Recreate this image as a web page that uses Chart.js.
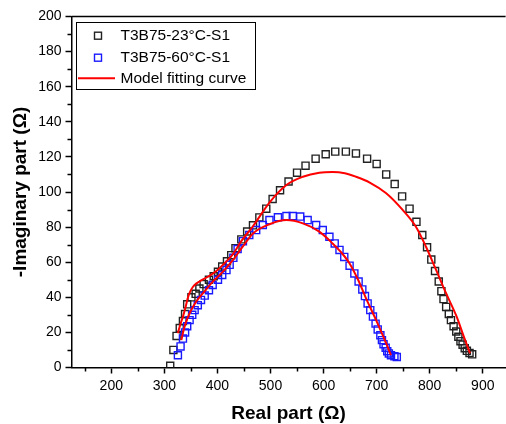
<!DOCTYPE html>
<html>
<head>
<meta charset="utf-8">
<script src="https://cdn.jsdelivr.net/npm/chart.js@4.4.0/dist/chart.umd.min.js"></script>
<style>
  html, body { margin: 0; padding: 0; background: #fff; overflow: hidden; }
  #wrap { width: 512px; height: 424px; }
</style>
</head>
<body>
<div id="wrap"><canvas id="nyquist" width="512" height="424"></canvas></div>
<script>
// tick labels
const xTickLabels = [200, 300, 400, 500, 600, 700, 800, 900];
const yTickLabels = [0, 20, 40, 60, 80, 100, 120, 140, 160, 180, 200];
const seriesNames = ["T3B75-23°C-S1", "T3B75-60°C-S1", "Model fitting curve"];

// measured points, 23 °C
const real23 = [311, 317, 323, 329, 335, 339, 343, 351, 359, 366, 374, 384, 393, 401, 409, 418, 426, 434, 445, 456,
  467, 479, 492, 504, 518, 534, 550, 566, 585, 604, 622, 642, 661, 682, 700, 718, 734, 748, 762, 775,
  786, 795, 803, 810, 817, 822, 826, 831, 836, 840, 845, 850, 854, 858, 862, 866, 870, 875, 880];
const imag23 = [1, 10, 18, 22.5, 26.5, 30.5, 36, 40, 42, 45, 47.5, 50, 52, 54.5, 57.5, 60.5, 64, 68, 73, 77.5,
  81, 85.5, 90.5, 96, 101, 106, 111, 115, 119, 121.5, 123, 123, 122, 119, 116, 110, 104.5, 97.5, 90.5, 83,
  75.5, 68.5, 61.5, 55, 49, 43.5, 39, 34.5, 30.5, 27, 23.5, 20.5, 17.5, 15, 13, 11, 9.5, 8.3, 7.5];

// measured points, 60 °C
const real60 = [325.5, 330.5, 335, 339, 343, 347.5, 352.5, 357, 363, 369, 376, 384, 391, 401, 409, 417, 423, 430,
  438, 448, 460, 473, 485.5, 498, 514, 530, 542, 556, 570, 586, 598.5, 611, 621, 630, 639, 649, 658, 666,
  673, 678, 683, 688, 693, 698, 702, 707, 710, 713, 717, 720, 723, 727, 733.5, 738];
const imag60 = [7, 12, 16.5, 20, 23.5, 27, 30, 32.7, 35.5, 38.5, 41, 44, 47, 50, 52.7, 55.5, 58.5, 62.5,
  67.5, 72, 75.5, 78.3, 81.2, 84, 85.6, 86.3, 86.3, 86, 84, 81.2, 78.3, 74.5, 70.7, 67, 63, 58, 53.6, 49,
  44.5, 40.7, 36.5, 32.7, 29, 25, 21.7, 18.4, 15.6, 13.3, 11.2, 9.3, 8, 7, 6.4, 6];

// fitted curves
const fitReal23 = [325.5, 330, 335, 340, 344, 349, 354, 360, 366, 382, 398, 413, 429, 445, 467, 498, 530, 561,
  592, 617, 640, 661, 687, 718, 749, 774, 793, 812, 831, 850, 865, 876];
const fitImag23 = [19.5, 24.5, 29, 34.5, 39.5, 43.5, 46, 47.8, 49, 51.7, 55, 59.3, 64.5, 72, 80.5, 94, 104, 108.7,
  111, 111.4, 110.7, 108.7, 105.4, 99.3, 89.8, 80.2, 68.8, 55.6, 42.2, 29.5, 17, 8];
const fitReal60 = [332, 336, 341, 347, 354, 363, 372.5, 391, 410, 429, 448, 467, 498, 530, 561, 592, 617, 632,
  649, 665, 680, 699, 718, 727];
const fitImag60 = [15.6, 21, 26, 30.5, 34.6, 38.8, 42.2, 48.8, 54.5, 61.2, 69, 76.4, 81.6, 84, 82.1, 77.4, 70.7, 66,
  59.3, 50, 39.4, 27, 13.7, 7];

const FONT = "'Liberation Sans', Arial, sans-serif";
const BLACK = "#222";
const BLUE = "#1a1aff";
const RED = "#ff0000";

function pairs(xs, ys) {
  return xs.map((x, i) => ({ x: x, y: ys[i] }));
}

// top frame line, minor ticks and the boxed legend (Origin style)
const originFrame = {
  id: "originFrame",
  afterDraw(chart) {
    const ctx = chart.ctx;
    const area = chart.chartArea;
    const xs = chart.scales.x;
    const ys = chart.scales.y;
    ctx.save();
    ctx.strokeStyle = "#000";
    ctx.lineWidth = 1.5;
    ctx.beginPath();
    ctx.moveTo(area.left, area.top);
    ctx.lineTo(area.right, area.top);
    ctx.stroke();

    // minor ticks halfway between the labelled ones
    ctx.beginPath();
    for (let v = xTickLabels[0] - 50; v < xs.max; v += 100) {
      if (v <= xs.min) continue;
      const px = Math.round(xs.getPixelForValue(v)) + 0.5;
      ctx.moveTo(px, area.bottom);
      ctx.lineTo(px, area.bottom + 4);
    }
    for (let v = 10; v < ys.max; v += 20) {
      const py = Math.round(ys.getPixelForValue(v)) + 0.5;
      ctx.moveTo(area.left, py);
      ctx.lineTo(area.left - 4, py);
    }
    ctx.stroke();

    // legend
    ctx.lineWidth = 1;
    ctx.strokeStyle = "#000";
    ctx.strokeRect(76.5, 22.5, 179, 67);
    ctx.font = "15.5px " + FONT;
    ctx.fillStyle = "#000";
    ctx.textBaseline = "middle";
    const rows = [35.7, 57.7, 78.3];
    ctx.lineWidth = 1.4;
    ctx.strokeStyle = BLACK;
    ctx.strokeRect(94.5, 32.2, 7, 7);
    ctx.strokeStyle = BLUE;
    ctx.strokeRect(94.5, 54.2, 7, 7);
    ctx.strokeStyle = RED;
    ctx.lineWidth = 2;
    ctx.beginPath();
    ctx.moveTo(78, rows[2]);
    ctx.lineTo(115, rows[2]);
    ctx.stroke();
    seriesNames.forEach((name, i) => ctx.fillText(name, 120.5, rows[i]));
    ctx.restore();
  }
};

const ctx = document.getElementById("nyquist").getContext("2d");
const nyquistChart = new Chart(ctx, {
  type: "scatter",
  data: {
    datasets: [
      {
        label: seriesNames[2],
        data: pairs(fitReal23, fitImag23),
        showLine: true,
        borderColor: RED,
        borderWidth: 2,
        pointRadius: 0,
        cubicInterpolationMode: "monotone",
        order: 0
      },
      {
        label: seriesNames[2],
        data: pairs(fitReal60, fitImag60),
        showLine: true,
        borderColor: RED,
        borderWidth: 2,
        pointRadius: 0,
        cubicInterpolationMode: "monotone",
        order: 0
      },
      {
        label: seriesNames[0],
        data: pairs(real23, imag23),
        pointStyle: "rect",
        pointRadius: 5,
        borderColor: BLACK,
        borderWidth: 1.4,
        backgroundColor: "rgba(255,255,255,0)",
        order: 2
      },
      {
        label: seriesNames[1],
        data: pairs(real60, imag60),
        pointStyle: "rect",
        pointRadius: 5,
        borderColor: BLUE,
        borderWidth: 1.4,
        backgroundColor: "rgba(255,255,255,0)",
        order: 1
      }
    ]
  },
  options: {
    responsive: false,
    animation: false,
    devicePixelRatio: 1,
    layout: { padding: { top: 16.5, left: 0, right: 0, bottom: 0 } },
    scales: {
      x: {
        type: "linear",
        min: 125,
        max: 943,
        afterBuildTicks: s => { s.ticks = xTickLabels.map(v => ({ value: v })); },
        afterFit: s => { s.height = 56.5; },
        border: { color: "#000", width: 1.5 },
        grid: { drawOnChartArea: false, tickLength: 6, tickColor: "#000", tickWidth: 1.5 },
        ticks: { color: "#000", font: { family: FONT, size: 14 }, padding: 4, maxRotation: 0, autoSkip: false },
        title: {
          display: true,
          text: "Real part (Ω)",
          color: "#000",
          font: { family: FONT, size: 19, weight: "bold", lineHeight: 1 },
          padding: { top: 0, bottom: 1 }
        }
      },
      y: {
        type: "linear",
        min: 0,
        max: 200,
        afterBuildTicks: s => { s.ticks = yTickLabels.map(v => ({ value: v })); },
        afterFit: s => { s.width = 71.5; },
        border: { color: "#000", width: 1.5 },
        grid: { drawOnChartArea: false, tickLength: 6, tickColor: "#000", tickWidth: 1.5 },
        ticks: { color: "#000", font: { family: FONT, size: 14 }, padding: 4, autoSkip: false },
        title: {
          display: true,
          text: "-Imaginary part (Ω)",
          color: "#000",
          font: { family: FONT, size: 19, weight: "bold", lineHeight: 1 },
          padding: { top: 11.5, bottom: 0 }
        }
      }
    },
    plugins: {
      legend: { display: false },
      tooltip: { enabled: false }
    }
  },
  plugins: [originFrame]
});
</script>
</body>
</html>
